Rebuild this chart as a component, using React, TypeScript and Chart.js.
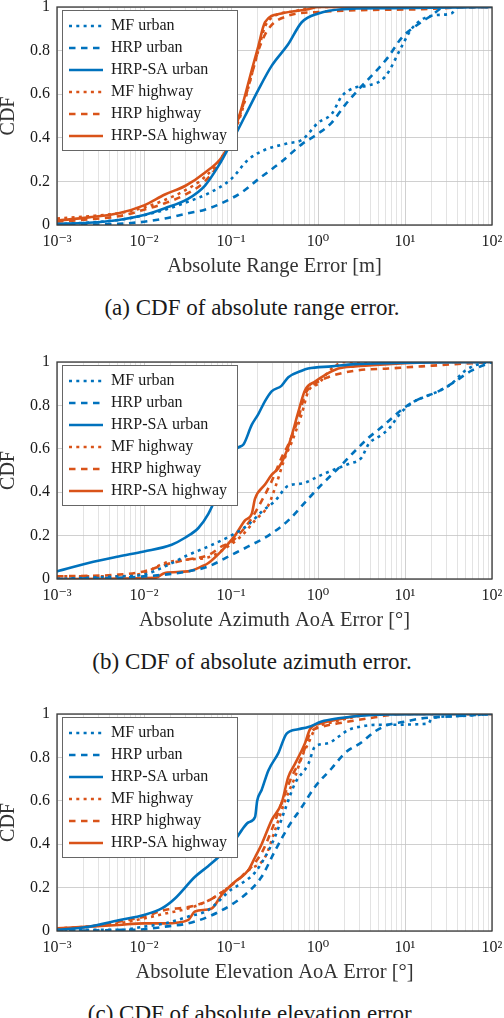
import React, { useEffect, useRef } from "react";
import { Chart, registerables } from "chart.js";

Chart.register(...registerables);

type Pt = [number, number];

// ---------- data (x = absolute error, y = CDF) ----------
const SERIES_LABELS = ["MF urban", "HRP urban", "HRP-SA urban", "MF highway", "HRP highway", "HRP-SA highway"];

const X_DECADES = [0.001, 0.01, 0.1, 1, 10, 100];
const X_DECADE_LABELS = ["10⁻³", "10⁻²", "10⁻¹", "10⁰", "10¹", "10²"];
const Y_TICKS = [0, 0.2, 0.4, 0.6, 0.8, 1];
const Y_TICK_LABELS = ["0", "0.2", "0.4", "0.6", "0.8", "1"];

const X_TITLES = ["Absolute Range Error [m]", "Absolute Azimuth AoA Error [°]", "Absolute Elevation AoA Error [°]"];
const CAPTIONS = ["(a) CDF of absolute range error.", "(b) CDF of absolute azimuth error.", "(c) CDF of absolute elevation error."];

// (a) range
const rangeMfUrban: Pt[] = [[0.001, 0.003], [0.0051, 0.023], [0.0103, 0.046], [0.0174, 0.07], [0.032, 0.107], [0.055, 0.145], [0.1, 0.21], [0.158, 0.3], [0.246, 0.345], [0.456, 0.375], [0.65, 0.39], [1.01, 0.47], [1.44, 0.51], [1.87, 0.59], [2.66, 0.63], [3.8, 0.64], [5.9, 0.68], [9.2, 0.82], [11.9, 0.9], [20.3, 0.96], [34, 0.97], [41, 1.0], [100, 1.0]];
const rangeHrpUrban: Pt[] = [[0.001, 0.0], [0.0051, 0.005], [0.01, 0.015], [0.0174, 0.03], [0.032, 0.054], [0.05, 0.07], [0.078, 0.1], [0.133, 0.15], [0.206, 0.21], [0.38, 0.29], [0.65, 0.37], [1.01, 0.42], [1.44, 0.47], [2.04, 0.55], [2.9, 0.62], [4.5, 0.7], [6.4, 0.77], [9.2, 0.86], [13, 0.91], [20, 0.96], [29, 1.0], [100, 1.0]];
const rangeSaUrban: Pt[] = [[0.001, 0.005], [0.0023, 0.01], [0.0051, 0.023], [0.01, 0.046], [0.0174, 0.077], [0.032, 0.12], [0.05, 0.18], [0.0715, 0.27], [0.1, 0.375], [0.145, 0.5], [0.206, 0.62], [0.293, 0.73], [0.456, 0.83], [0.65, 0.93], [1.01, 0.97], [1.87, 0.99], [6.4, 0.995], [100, 1.0]];
const rangeMfHighway: Pt[] = [[0.001, 0.03], [0.0023, 0.04], [0.0051, 0.054], [0.01, 0.08], [0.0174, 0.115], [0.027, 0.15], [0.05, 0.22], [0.078, 0.31], [0.1, 0.39], [0.133, 0.52], [0.173, 0.69], [0.206, 0.8], [0.246, 0.91], [0.32, 0.96], [0.54, 0.98], [1.01, 1.0], [100, 1.0]];
const rangeHrpHighway: Pt[] = [[0.001, 0.015], [0.0023, 0.026], [0.0051, 0.04], [0.01, 0.07], [0.0174, 0.1], [0.03, 0.14], [0.05, 0.2], [0.078, 0.3], [0.1, 0.39], [0.133, 0.53], [0.173, 0.69], [0.206, 0.8], [0.27, 0.9], [0.456, 0.96], [1.01, 0.977], [2.66, 0.985], [15.6, 0.99], [37.6, 0.997], [100, 1.0]];
const rangeSaHighway: Pt[] = [[0.001, 0.02], [0.0023, 0.035], [0.0051, 0.054], [0.01, 0.09], [0.0174, 0.14], [0.03, 0.18], [0.05, 0.24], [0.078, 0.31], [0.1, 0.39], [0.133, 0.54], [0.173, 0.71], [0.206, 0.82], [0.246, 0.93], [0.38, 0.97], [0.77, 0.99], [1.01, 1.0], [100, 1.0]];

// (b) azimuth
const aziMfUrban: Pt[] = [[0.001, 0.0], [0.0051, 0.012], [0.01, 0.02], [0.0174, 0.058], [0.032, 0.11], [0.055, 0.15], [0.1, 0.2], [0.158, 0.25], [0.225, 0.31], [0.321, 0.36], [0.456, 0.43], [0.65, 0.44], [1.1, 0.48], [1.44, 0.5], [2.23, 0.53], [3.18, 0.56], [3.79, 0.62], [5.4, 0.665], [6.43, 0.69], [9.16, 0.77], [13.0, 0.82], [17.0, 0.84], [24.2, 0.865], [34.4, 0.9], [49, 0.96], [70, 0.99], [100, 1.0]];
const aziHrpUrban: Pt[] = [[0.001, 0.0], [0.01, 0.012], [0.032, 0.035], [0.055, 0.058], [0.1, 0.11], [0.158, 0.15], [0.269, 0.2], [0.456, 0.27], [0.774, 0.37], [1.1, 0.435], [1.71, 0.51], [2.66, 0.59], [3.79, 0.65], [5.4, 0.7], [9.16, 0.78], [13.0, 0.82], [24.2, 0.865], [37.6, 0.91], [58, 0.96], [100, 1.0]];
const aziSaUrban: Pt[] = [[0.001, 0.035], [0.0023, 0.074], [0.0051, 0.104], [0.01, 0.127], [0.0208, 0.158], [0.0296, 0.19], [0.0422, 0.235], [0.0549, 0.3], [0.0715, 0.4], [0.116, 0.6], [0.139, 0.62], [0.173, 0.71], [0.206, 0.76], [0.246, 0.82], [0.293, 0.865], [0.38, 0.89], [0.456, 0.93], [0.65, 0.96], [0.77, 0.97], [1.44, 0.98], [2.66, 0.99], [6.4, 0.995], [100, 1.0]];
const aziMfHighway: Pt[] = [[0.001, 0.012], [0.0051, 0.012], [0.01, 0.028], [0.0174, 0.074], [0.032, 0.09], [0.055, 0.1], [0.1, 0.16], [0.133, 0.2], [0.189, 0.27], [0.269, 0.34], [0.321, 0.42], [0.418, 0.56], [0.498, 0.63], [0.649, 0.76], [0.774, 0.865], [1.01, 0.9], [1.44, 0.97], [2.04, 1.0], [100, 1.0]];
const aziHrpHighway: Pt[] = [[0.001, 0.012], [0.0051, 0.02], [0.01, 0.035], [0.0174, 0.066], [0.032, 0.09], [0.055, 0.11], [0.078, 0.15], [0.1, 0.17], [0.133, 0.22], [0.173, 0.28], [0.225, 0.36], [0.293, 0.45], [0.382, 0.56], [0.456, 0.62], [0.594, 0.74], [0.709, 0.85], [0.925, 0.9], [1.31, 0.93], [2.66, 0.96], [6.43, 0.97], [15.6, 0.98], [37.6, 0.99], [100, 1.0]];
const aziSaHighway: Pt[] = [[0.001, 0.0], [0.0134, 0.005], [0.0174, 0.028], [0.032, 0.035], [0.046, 0.058], [0.055, 0.074], [0.078, 0.13], [0.111, 0.2], [0.145, 0.27], [0.173, 0.3], [0.189, 0.37], [0.246, 0.435], [0.293, 0.48], [0.35, 0.51], [0.418, 0.57], [0.498, 0.66], [0.594, 0.77], [0.709, 0.87], [0.925, 0.91], [1.2, 0.94], [1.71, 0.97], [2.66, 0.98], [6.43, 0.99], [15.6, 0.998], [100, 1.0]];

// (c) elevation
const eleMfUrban: Pt[] = [[0.001, 0.005], [0.0051, 0.005], [0.01, 0.02], [0.0174, 0.035], [0.032, 0.066], [0.055, 0.097], [0.1, 0.19], [0.133, 0.22], [0.189, 0.27], [0.246, 0.34], [0.321, 0.435], [0.418, 0.56], [0.544, 0.68], [0.774, 0.77], [0.925, 0.85], [1.31, 0.865], [1.71, 0.895], [2.23, 0.926], [2.91, 0.94], [4.52, 0.95], [18.5, 0.955], [20.3, 0.98], [37.6, 0.99], [100, 1.0]];
const eleHrpUrban: Pt[] = [[0.001, 0.0], [0.0055, 0.005], [0.01, 0.008], [0.0174, 0.02], [0.032, 0.035], [0.055, 0.066], [0.1, 0.12], [0.158, 0.18], [0.225, 0.25], [0.321, 0.37], [0.456, 0.48], [0.649, 0.57], [0.925, 0.665], [1.44, 0.75], [2.04, 0.82], [3.18, 0.87], [4.52, 0.92], [6.43, 0.95], [10, 0.965], [15.6, 0.98], [37.6, 0.99], [100, 1.0]];
const eleSaUrban: Pt[] = [[0.001, 0.005], [0.0023, 0.02], [0.0051, 0.05], [0.01, 0.074], [0.016, 0.104], [0.0227, 0.15], [0.0386, 0.25], [0.055, 0.3], [0.0715, 0.34], [0.116, 0.43], [0.133, 0.465], [0.158, 0.5], [0.189, 0.525], [0.2, 0.6], [0.225, 0.65], [0.269, 0.74], [0.35, 0.82], [0.436, 0.91], [0.593, 0.93], [0.774, 0.94], [1.1, 0.965], [1.71, 0.98], [2.66, 0.99], [6.43, 0.998], [100, 1.0]];
const eleMfHighway: Pt[] = [[0.001, 0.012], [0.0023, 0.02], [0.0051, 0.035], [0.01, 0.058], [0.0174, 0.08], [0.032, 0.104], [0.055, 0.14], [0.1, 0.21], [0.158, 0.28], [0.246, 0.34], [0.321, 0.465], [0.418, 0.6], [0.544, 0.71], [0.649, 0.8], [0.774, 0.865], [0.925, 0.93], [1.31, 0.957], [2.23, 0.98], [4.52, 1.0], [100, 1.0]];
const eleHrpHighway: Pt[] = [[0.001, 0.005], [0.0023, 0.02], [0.0051, 0.043], [0.01, 0.066], [0.0174, 0.097], [0.032, 0.11], [0.055, 0.14], [0.1, 0.21], [0.158, 0.28], [0.225, 0.36], [0.293, 0.465], [0.382, 0.59], [0.498, 0.71], [0.649, 0.8], [0.809, 0.91], [1.1, 0.94], [1.71, 0.957], [2.66, 0.97], [4.52, 0.985], [6.43, 0.995], [10, 1.0], [100, 1.0]];
const eleSaHighway: Pt[] = [[0.001, 0.012], [0.0023, 0.02], [0.0051, 0.028], [0.01, 0.035], [0.0174, 0.035], [0.032, 0.05], [0.0386, 0.09], [0.06, 0.104], [0.078, 0.166], [0.111, 0.227], [0.158, 0.28], [0.189, 0.34], [0.225, 0.4], [0.293, 0.51], [0.382, 0.59], [0.456, 0.71], [0.544, 0.77], [0.709, 0.865], [0.809, 0.93], [1.1, 0.957], [1.71, 0.975], [2.66, 0.99], [4.14, 1.0], [100, 1.0]];

const PANELS: Pt[][][] = [
  [rangeMfUrban, rangeHrpUrban, rangeSaUrban, rangeMfHighway, rangeHrpHighway, rangeSaHighway],
  [aziMfUrban, aziHrpUrban, aziSaUrban, aziMfHighway, aziHrpHighway, aziSaHighway],
  [eleMfUrban, eleHrpUrban, eleSaUrban, eleMfHighway, eleHrpHighway, eleSaHighway],
];

// ---------- styling / layout ----------
const FONT = "'Liberation Serif', 'DejaVu Serif', 'Times New Roman', serif";
const BLUE = "#0072BD";
const ORANGE = "#D95319";
const DASHES: number[][] = [[3, 4.3], [6.5, 5.5], []];
const PLOT_TOPS = [7, 362, 714];
const PLOT_BOTTOMS = [225, 579, 931];
const PAD_TOP = 20;
const X_AXIS_H = 60;

const isDecade = (v: number) => {
  const l = Math.log10(v);
  return Math.abs(l - Math.round(l)) < 1e-6;
};

const X_ALL_TICKS: number[] = (() => {
  const t: number[] = [];
  for (let i = 0; i < X_DECADES.length; i++) {
    t.push(X_DECADES[i]);
    if (i < X_DECADES.length - 1) for (let k = 2; k <= 9; k++) t.push(X_DECADES[i] * k);
  }
  return t;
})();

const framePlugin = {
  id: "frameAndLegendBox",
  afterLayout(chart: any) {
    const lg = chart.legend;
    if (lg) {
      const ca = chart.chartArea;
      lg.left = ca.left + 6;
      lg.top = ca.top + 5;
      lg.bottom = ca.bottom;
      lg.right = ca.right;
    }
  },
  afterDatasetsDraw(chart: any) {
    const { ctx, chartArea: ca } = chart;
    ctx.save();
    ctx.setLineDash([]);
    ctx.strokeStyle = "#3a3a3a";
    ctx.lineWidth = 1.3;
    ctx.strokeRect(ca.left, ca.top, ca.right - ca.left, ca.bottom - ca.top);
    // legend box
    const bx = Math.round(ca.left + 5) + 0.5;
    const by = Math.round(ca.top + 3) + 0.5;
    ctx.fillStyle = "#ffffff";
    ctx.fillRect(bx, by, 175, 140);
    ctx.strokeStyle = "#666666";
    ctx.lineWidth = 1;
    ctx.strokeRect(bx, by, 175, 140);
    ctx.restore();
    if (chart.legend) chart.legend.draw();
  },
};

function CdfPanel({ idx }: { idx: number }) {
  const ref = useRef<HTMLCanvasElement>(null);
  useEffect(() => {
    const series = PANELS[idx];
    const chart = new Chart(ref.current as HTMLCanvasElement, {
      type: "line",
      data: {
        datasets: series.map((s, i) => ({
          label: SERIES_LABELS[i],
          data: s.map(([x, y]) => ({ x, y })),
          borderColor: i < 3 ? BLUE : ORANGE,
          backgroundColor: i < 3 ? BLUE : ORANGE,
          borderWidth: 2.6,
          borderDash: DASHES[i % 3],
          borderCapStyle: "butt",
          pointRadius: 0,
          cubicInterpolationMode: "monotone",
        })),
      } as any,
      options: {
        animation: false,
        responsive: true,
        maintainAspectRatio: false,
        events: [],
        layout: { padding: { top: PAD_TOP, right: 12, left: 0, bottom: 0 } },
        plugins: {
          tooltip: { enabled: false },
          legend: {
            position: "chartArea",
            align: "start",
            labels: {
              usePointStyle: true,
              pointStyle: "line",
              pointStyleWidth: 34,
              boxWidth: 34,
              boxHeight: 16,
              padding: 6,
              color: "#1a1a1a",
              font: { family: FONT, size: 16 },
              generateLabels: (c: any) =>
                (Chart as any).defaults.plugins.legend.labels.generateLabels(c).map((l: any) => {
                  const ds = c.data.datasets[l.datasetIndex];
                  return { ...l, lineDash: ds.borderDash, lineWidth: ds.borderWidth, strokeStyle: ds.borderColor, fillStyle: ds.borderColor, lineCap: "butt" };
                }),
            },
          },
        },
        scales: {
          x: {
            type: "logarithmic",
            min: X_DECADES[0],
            max: X_DECADES[X_DECADES.length - 1],
            afterBuildTicks: (s: any) => {
              s.ticks = X_ALL_TICKS.map((v) => ({ value: v }));
            },
            afterFit: (s: any) => {
              s.height = X_AXIS_H;
              s.paddingLeft = 0;
              s.paddingRight = 0;
            },
            ticks: {
              autoSkip: false,
              maxRotation: 0,
              minRotation: 0,
              padding: 7,
              color: "#1a1a1a",
              font: { family: FONT, size: 16 },
              callback: (v: any) => {
                const n = Number(v);
                if (!isDecade(n)) return "";
                const k = X_DECADES.findIndex((d) => Math.abs(Math.log10(d) - Math.log10(n)) < 1e-6);
                return k >= 0 ? X_DECADE_LABELS[k] : "";
              },
            },
            grid: {
              color: (c: any) => (c.tick && isDecade(c.tick.value) ? "#c4c4c4" : "#dcdcdc"),
              lineWidth: 0.8,
              drawTicks: false,
            },
            border: { display: false },
            title: {
              display: true,
              text: X_TITLES[idx],
              color: "#333333",
              font: { family: FONT, size: 20.5, lineHeight: 1 },
              padding: { top: 0, bottom: 8 },
            },
          },
          y: {
            type: "linear",
            min: 0,
            max: 1,
            afterBuildTicks: (s: any) => {
              s.ticks = Y_TICKS.map((v) => ({ value: v }));
            },
            afterFit: (s: any) => {
              s.width = 57;
            },
            ticks: {
              padding: 7,
              color: "#1a1a1a",
              font: { family: FONT, size: 16 },
              callback: (v: any) => {
                const k = Y_TICKS.findIndex((t) => Math.abs(t - Number(v)) < 1e-9);
                return k >= 0 ? Y_TICK_LABELS[k] : "";
              },
            },
            grid: { color: "#c4c4c4", lineWidth: 0.8, drawTicks: false },
            border: { display: false },
            title: {
              display: true,
              text: "CDF",
              color: "#333333",
              font: { family: FONT, size: 20, lineHeight: 1 },
              padding: { top: -1, bottom: 0 },
            },
          },
        },
      } as any,
      plugins: [framePlugin],
    });
    return () => chart.destroy();
  }, [idx]);

  const top = PLOT_TOPS[idx] - PAD_TOP;
  const height = PAD_TOP + (PLOT_BOTTOMS[idx] - PLOT_TOPS[idx]) + X_AXIS_H;
  return (
    <>
      <div style={{ position: "absolute", left: 0, top, width: 504, height }}>
        <canvas ref={ref} />
      </div>
      <div
        style={{
          position: "absolute",
          left: 0,
          top: PLOT_BOTTOMS[idx] + 71,
          width: 504,
          textAlign: "center",
          fontFamily: FONT,
          fontSize: 23,
          lineHeight: "23px",
          color: "#1a1a1a",
          whiteSpace: "nowrap",
        }}
      >
        {CAPTIONS[idx]}
      </div>
    </>
  );
}

export default function App() {
  return (
    <div style={{ position: "absolute", left: 0, top: 0, width: 504, height: 1018, overflow: "hidden", background: "#ffffff" }}>
      <CdfPanel idx={0} />
      <CdfPanel idx={1} />
      <CdfPanel idx={2} />
    </div>
  );
}
